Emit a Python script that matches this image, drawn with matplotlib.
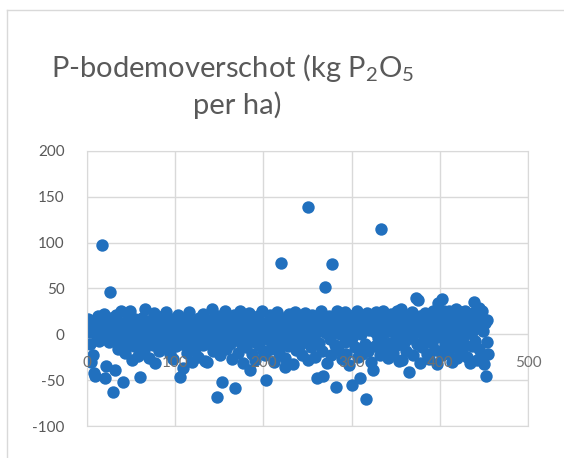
import matplotlib
matplotlib.use('Agg')
import matplotlib.pyplot as plt
from matplotlib.lines import Line2D
import numpy as np

plt.rcParams['font.family'] = ['Lato', 'DejaVu Sans']

# P-bodemoverschot per perceel (kg P2O5 per ha)
y = [
    17, 3, -10, 7, -30, 13, -22, -42, -45, 5, -4, 10, 20, -7, 0, 8, 97, -3, 22, -48,
    16, -34, 4, 12, -8, 46, 18, -1, 9, -63, -5, -39, 21, 6, -16, 13, -3, 25, 1, -12,
    -52, 8, -20, 14, 4, -9, 22, -4, 26, 10, -28, 3, -13, 17, 6, -7, 12, -24, 0, -47,
    9, 18, -10, 4, -17, 28, 1, -5, 13, -26, 8, 16, -3, 5, -12, 23, -31, 10, 0, -8,
    14, -18, 6, 3, -4, 20, -14, 9, 1, 24, -9, -1, 12, -21, 5, 17, -7, -27, 8, 3,
    -13, 10, 21, -5, 4, -47, 13, -10, -37, 6, 16, -3, -20, 9, 1, 24, -8, 5, -30, 12,
    -1, 14, -16, 8, 3, -25, 18, -7, 10, 0, -12, 22, 4, -29, 13, -30, -4, 6, 16, -9,
    1, 28, -18, 12, -3, 8, -68, 20, -13, 5, -23, 14, -52, 3, -8, 25, 9, -16, 4, -1,
    17, -10, 6, -27, 12, 0, 21, -59, -5, 10, -20, 4, 14, 26, -9, 1, -31, 18, 8, -14,
    5, 13, -4, 23, -39, 9, -21, 3, 16, -8, -28, 12, 1, 20, -12, 6, -3, 25, -18, 10,
    4, -23, -50, 14, 8, -6, 21, 0, -16, 12, 17, -30, 5, -1, 24, -10, 9, -20, 3, 78,
    13, -5, 18, -26, -36, 6, 10, -13, 22, 1, -8, 16, -32, 4, 12, 24, -17, 8, -3, 20,
    -12, 5, 14, -22, 9, 0, 23, -7, 17, 139, -28, 3, 12, -14, 21, 6, -4, 13, -25, 10,
    -48, 18, -9, 4, 25, -18, 8, -45, 14, 52, 1, -31, 12, 20, -5, 9, -23, 77, 3, 16,
    -12, -57, 6, 26, -17, 13, 0, 22, -27, 10, 5, -8, 24, -21, 14, 3, -33, 18, 8, -4,
    -55, 12, 21, -14, 4, 25, -25, 9, 16, -48, 0, -21, 20, 6, -10, -70, 13, 23, -18, 5,
    14, -30, 9, -39, 20, 3, -13, 24, 8, -4, 17, -22, 115, 10, -8, 25, 1, -16, 21, 5,
    -26, 13, 4, -9, 22, 12, -20, 6, 16, -1, 25, -12, 8, -29, 18, 28, -28, 3, 14, -7,
    10, -18, 21, 5, -41, 13, -4, 24, 9, -23, 17, 1, 40, -10, 38, 8, -31, 20, 4, -14,
    16, -5, 23, 9, -21, 3, 13, -27, 18, 6, -9, 25, 0, -17, 12, 21, -32, 34, 5, -3,
    14, -23, 39, 8, 26, -12, 17, 4, -20, 25, 10, -7, 22, -30, 1, 16, -14, 28, 6, -26,
    20, -4, 12, 24, -18, 5, 14, -10, 25, 0, -25, 17, 9, -31, 21, 3, -13, 23, 35, -7,
    13, -28, 18, 29, -16, 8, -22, 25, 4, -32, 12, -45, -8, 16, -21,
]
x = np.arange(1, len(y) + 1)

xticks = [0, 100, 200, 300, 400, 500]
yticks = [-100, -50, 0, 50, 100, 150, 200]

grijs = '#595959'
lijn = '#D9D9D9'

fig = plt.figure(figsize=(5.64, 4.58), dpi=100)
ax = fig.add_axes([87/564, 32/458, 441/564, 275/458])

ax.scatter(x, y, s=80, color='#2170BE', linewidths=0, zorder=2)

ax.set_xlim(0, 500)
ax.set_ylim(-100, 200)
ax.set_xticks(xticks)
ax.set_yticks(yticks)
ax.set_xticklabels([])
ax.set_yticklabels([str(v) for v in yticks], color=grijs, fontsize=11)
ax.tick_params(length=0, axis='y', pad=16)
ax.tick_params(length=0, axis='x')
ax.grid(True, color=lijn, linewidth=1, zorder=0)
ax.set_axisbelow(True)
for s in ax.spines.values():
    s.set_color(lijn)

# labels van de x-as staan in de puntenwolk
for v in xticks:
    ax.text(v, -31, str(v), ha='center', va='center', color='#707070',
            fontsize=11, zorder=3)

fig.text(233/564, 1 - 68/458, r'P-bodemoverschot (kg P$_\mathregular{2}$O$_\mathregular{5}$',
         ha='center', va='center', color=grijs, fontsize=21)
fig.text(237/564, 1 - 105/458, 'per ha)', ha='center', va='center',
         color=grijs, fontsize=21)

# kader van de grafiek
fig.add_artist(Line2D([7/564, 7/564], [0, 1 - 10/458], color=lijn, lw=1))
fig.add_artist(Line2D([7/564, 1], [1 - 10/458, 1 - 10/458], color=lijn, lw=1))

fig.savefig('out.png', dpi=100)
